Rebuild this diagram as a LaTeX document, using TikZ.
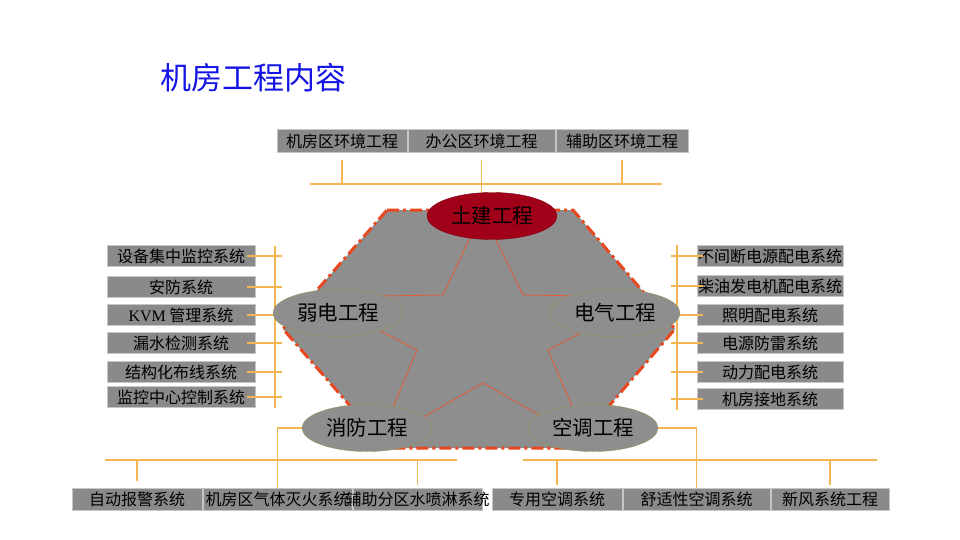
\documentclass[tikz,border=0pt]{standalone}
\usepackage{fontspec}
\setmainfont{Noto Sans CJK SC}
\newfontfamily\latinfont{Liberation Serif}
\usetikzlibrary{shapes.geometric}
\definecolor{boxgray}{RGB}{138,138,138}
\definecolor{hexgray}{RGB}{142,142,142}
\definecolor{busorange}{RGB}{242,182,84}
\definecolor{hexred}{RGB}{232,72,32}
\definecolor{starred}{RGB}{228,92,52}
\definecolor{rimolive}{RGB}{150,150,90}
\definecolor{darkred}{RGB}{160,0,24}
\definecolor{titleblue}{RGB}{20,20,228}
\begin{document}
\begin{tikzpicture}[x=1pt,y=-1pt]
        \tikzstyle{box}=[rectangle, draw=gray!45, fill=boxgray, inner sep=0pt, minimum height=21pt, text=black, font=\fontsize{16}{16}\selectfont]
        \tikzstyle{part}=[ellipse, draw=rimolive, fill=hexgray, inner sep=0pt, minimum width=130pt, minimum height=47pt, font=\fontsize{20.5}{21}\selectfont]
        \tikzstyle{bus}=[draw=busorange, line width=1.2pt]
        \useasboundingbox[fill=white] (0,0) rectangle (960,540);
        \node[text=titleblue, font=\fontsize{31}{32}\selectfont] (title) at (253,78) {机房工程内容};
        % hexagon and star
        \draw[fill=hexgray, draw=hexred, line width=3pt, dash pattern=on 12pt off 4pt on 3pt off 4pt]
            (387,210) -- (573,210) -- (675,329) -- (573,448) -- (387,448) -- (283,329) -- cycle;
        \draw[starred, line width=0.8pt] (482,212) -- (523,295) -- (650,297) -- (548,350) -- (588,443)
            -- (483,383) -- (378,443) -- (417,350) -- (315,297) -- (443,295) -- cycle;
        % top row
        \node[box, minimum width=130pt, minimum height=23pt] (tb1) at (342,141) {机房区环境工程};
        \node[box, minimum width=147pt, minimum height=23pt] (tb2) at (481.5,141) {办公区环境工程};
        \node[box, minimum width=132pt, minimum height=23pt] (tb3) at (622,141) {辅助区环境工程};
        % left column
        \node[box, minimum width=148pt] (lb1) at (181,256) {设备集中监控系统};
        \node[box, minimum width=148pt] (lb2) at (181,287) {安防系统};
        \node[box, minimum width=148pt] (lb3) at (181,315) {{\latinfont KVM} 管理系统};
        \node[box, minimum width=148pt] (lb4) at (181,343) {漏水检测系统};
        \node[box, minimum width=148pt] (lb5) at (181,372) {结构化布线系统};
        \node[box, minimum width=148pt] (lb6) at (181,397) {监控中心控制系统};
        % right column
        \node[box, minimum width=146pt] (rb1) at (770,256) {\makebox[0pt]{不间断电源配电系统}};
        \node[box, minimum width=146pt] (rb2) at (770,286) {\makebox[0pt]{柴油发电机配电系统}};
        \node[box, minimum width=146pt] (rb3) at (770,315) {照明配电系统};
        \node[box, minimum width=146pt] (rb4) at (770,343) {电源防雷系统};
        \node[box, minimum width=146pt] (rb5) at (770,372) {动力配电系统};
        \node[box, minimum width=146pt] (rb6) at (770,399) {机房接地系统};
        % bottom row
        \node[box, minimum width=130pt, minimum height=22pt] (bb1) at (137,499) {自动报警系统};
        \node[box, minimum width=149pt, minimum height=22pt] (bb2) at (277.5,499) {\makebox[0pt]{机房区气体灭火系统}};
        \node[box, minimum width=129pt, minimum height=22pt] (bb3) at (417.5,499) {\makebox[0pt]{辅助分区水喷淋系统}};
        \node[box, minimum width=130pt, minimum height=22pt] (bb4) at (557,499) {专用空调系统};
        \node[box, minimum width=147pt, minimum height=22pt] (bb5) at (696.5,499) {舒适性空调系统};
        \node[box, minimum width=118pt, minimum height=22pt] (bb6) at (830,499) {新风系统工程};
        % buses
        \coordinate (tbusl) at (310,184);
        \coordinate (tbusr) at (662,184);
        \coordinate (lbust) at (275,246);
        \coordinate (lbusb) at (275,408);
        \coordinate (rbust) at (677,245);
        \coordinate (rbusb) at (677,410);
        \coordinate (blbusl) at (105,460);
        \coordinate (blbusr) at (457,460);
        \coordinate (brbusl) at (523,460);
        \coordinate (brbusr) at (877,460);
        \path[bus] (tbusl) -- (tbusr);
        \path[bus] (lbust) -- (lbusb);
        \path[bus] (rbust) -- (rbusb);
        \path[bus] (blbusl) -- (blbusr);
        \path[bus] (brbusl) -- (brbusr);
        \path[bus, shorten <=7pt] (tb1.south) -- (tb1.south |- tbusl);
        \path[bus, shorten <=7pt] (tb3.south) -- (tb3.south |- tbusl);
        \foreach \i in {1,...,6} {
            \path[bus, shorten <=-8pt] (lb\i.east) -- ([xshift=7pt]lb\i.east -| lbust);
            \path[bus, shorten <=-6pt] (rb\i.west) -- ([xshift=-6pt]rb\i.west -| rbust);
        }
        \path[bus, shorten <=7pt] (bb1.north) -- (bb1.north |- blbusl);
        \path[bus, shorten <=3pt] (bb3.north) -- (bb3.north |- blbusl);
        \path[bus, shorten <=3pt] (bb4.north) -- (bb4.north |- brbusl);
        \path[bus, shorten <=3pt] (bb6.north) -- (bb6.north |- brbusl);
        % parts
        \node[part, fill=darkred, draw=darkred!80!black] (tujian) at (492,216) {土建工程};
        \node[part] (ruodian) at (338,313) {弱电工程};
        \node[part] (dianqi) at (615,313) {电气工程};
        \node[part] (xiaofang) at (367,428) {消防工程};
        \node[part] (kongtiao) at (593,428) {空调工程};
        \path[bus, shorten <=7pt] (tb2.south) -- (tb2.south |- tujian.north);
        \path[bus] (xiaofang.west) -| (bb2.north);
        \path[bus] (kongtiao.east) -| (bb5.north);
    \end{tikzpicture}
\end{document}
